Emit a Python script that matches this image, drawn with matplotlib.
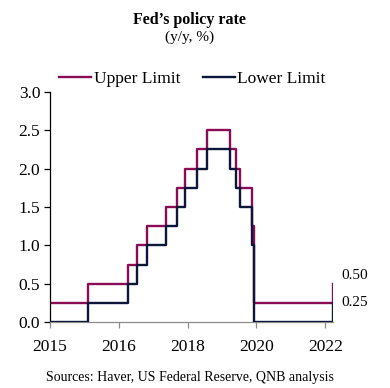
import matplotlib
matplotlib.use("Agg")
import matplotlib.pyplot as plt

# Step change positions on the chart's (non-linear) time axis; tick positions 0..4
step_x = [0, 0.556, 1.128, 1.258, 1.403, 1.684, 1.839, 1.969, 2.138, 2.274,
          2.612, 2.700, 2.758, 2.942, 2.961, 4.112]
upper = [0.25, 0.5, 0.75, 1.0, 1.25, 1.5, 1.75, 2.0, 2.25, 2.5,
         2.25, 2.0, 1.75, 1.25, 0.25, 0.5]
lower = [0.0, 0.25, 0.5, 0.75, 1.0, 1.25, 1.5, 1.75, 2.0, 2.25,
         2.0, 1.75, 1.5, 1.0, 0.0, 0.25]
tick_pos = [0, 1, 2, 3, 4]
tick_labels = ["2015", "2016", "2018", "2020", "2022"]
y_ticks = [0.0, 0.5, 1.0, 1.5, 2.0, 2.5, 3.0]
end_labels = ["0.50", "0.25"]

plt.rcParams['font.family'] = ['Liberation Serif', 'DejaVu Serif']

c_up = "#8A0C55"
c_lo = "#0B1638"

fig = plt.figure(figsize=(3.9, 3.88), dpi=100)
ax = fig.add_axes([0.128, 0.170, 0.726, 0.593])

ax.step(step_x, lower, where='post', color=c_lo, lw=1.7, label="Lower Limit", zorder=3)
ax.step(step_x, upper, where='post', color=c_up, lw=1.7, label="Upper Limit", zorder=2)

ax.set_xlim(0, step_x[-1])
ax.set_ylim(0, 3.0)
ax.set_yticks(y_ticks)
ax.set_yticklabels([f"{v:.1f}" for v in y_ticks])
ax.set_xticks(tick_pos)
ax.set_xticklabels(tick_labels)

for s in ["top", "right"]:
    ax.spines[s].set_visible(False)
ax.spines["left"].set_color("black")
ax.spines["left"].set_linewidth(0.9)
ax.spines["bottom"].set_color("#8c8c8c")
ax.spines["bottom"].set_linewidth(0.9)
ax.tick_params(axis='y', direction='out', length=4, width=0.9, color='black',
               labelsize=12.5, pad=3)
ax.tick_params(axis='x', direction='out', length=4, width=0.9, color='#8c8c8c',
               labelsize=12.5, pad=8)

ax.annotate(end_labels[0], xy=(step_x[-1], upper[-1]), xytext=(6, 6),
            textcoords='offset points', fontsize=11, va='center', ha='left',
            annotation_clip=False)
ax.annotate(end_labels[1], xy=(step_x[-1], lower[-1]), xytext=(6, 0),
            textcoords='offset points', fontsize=11, va='center', ha='left',
            annotation_clip=False)

h, l = ax.get_legend_handles_labels()
fig.legend([h[1], h[0]], [l[1], l[0]], loc='center', bbox_to_anchor=(0.493, 0.797),
           ncol=2, frameon=False, fontsize=12.5, handlelength=1.85, handletextpad=0.15,
           columnspacing=1.3, borderaxespad=0)

fig.text(0.487, 0.948, "Fed\u2019s policy rate", ha='center', va='center',
         fontsize=11.5, fontweight='bold')
fig.text(0.487, 0.905, "(y/y, %)", ha='center', va='center', fontsize=11)
fig.text(0.487, 0.028, "Sources: Haver, US Federal Reserve, QNB analysis",
         ha='center', va='center', fontsize=10)

fig.savefig("out.png", dpi=100)
